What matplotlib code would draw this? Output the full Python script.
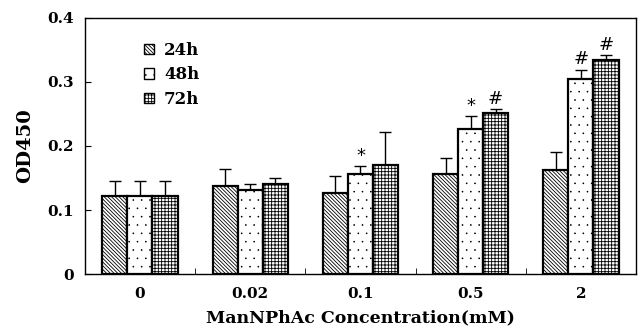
#!/usr/bin/env python3
# -*- coding: utf-8 -*-
"""
Grouped bar chart of OD450 vs ManNPhAc concentration.
"""

import matplotlib
matplotlib.use('Agg')
import matplotlib.hatch
import matplotlib.pyplot as plt
import numpy as np

concentrations = ['0', '0.02', '0.1', '0.5', '2']
series_names = ['24h', '48h', '72h']
od_24h = [0.122, 0.138, 0.127, 0.156, 0.163]
od_48h = [0.122, 0.132, 0.156, 0.226, 0.305]
od_72h = [0.122, 0.140, 0.170, 0.252, 0.335]
err_24h = [0.024, 0.026, 0.026, 0.025, 0.027]
err_48h = [0.024, 0.008, 0.013, 0.021, 0.014]
err_72h = [0.024, 0.010, 0.052, 0.005, 0.007]
marks_48h = ['', '', '*', '*', '#']
marks_72h = ['', '', '', '#', '#']

plt.rcParams['font.family'] = ['DejaVu Serif']
plt.rcParams['hatch.linewidth'] = 0.6
# smaller dots for the '.' hatch
matplotlib.hatch.SmallFilledCircles.size = 0.05

figure = plt.figure(figsize=(6.38, 3.31), dpi=100)
axes = figure.add_axes([0.133, 0.172, 0.864, 0.774])

x = np.arange(len(concentrations))
width = 0.227
values = [od_24h, od_48h, od_72h]
errors = [err_24h, err_48h, err_72h]
hatches = ['\\' * 9, '..', '+++++']
for i in range(3):
    pos = x + (i - 1) * width
    axes.bar(pos, values[i], width, color='white', edgecolor='black',
             linewidth=1.6, hatch=hatches[i], label=series_names[i],
             zorder=2)
    axes.errorbar(pos, values[i],
                  yerr=[np.zeros(len(x)), errors[i]],
                  fmt='none', ecolor='black', elinewidth=1.0, capsize=4,
                  capthick=1.0, zorder=1)

for i, (marks, vals, errs) in enumerate([(marks_48h, od_48h, err_48h),
                                          (marks_72h, od_72h, err_72h)]):
    for j, m in enumerate(marks):
        if m:
            axes.text(x[j] + i * width, vals[j] + errs[j] + 0.002, m,
                      ha='center', va='bottom', fontsize=13,
                      family='DejaVu Sans',
                      style='italic' if m == '#' else 'normal')

axes.set_xlim(-0.5, 4.5)
axes.set_ylim(0, 0.4)
axes.set_yticks([0, 0.1, 0.2, 0.3, 0.4])
axes.set_yticklabels(['0', '0.1', '0.2', '0.3', '0.4'])
axes.set_xticks(x)
axes.set_xticklabels(concentrations)
axes.set_xticks(np.arange(0.5, 4.5, 1), minor=True)
axes.tick_params(axis='x', which='major', length=0, pad=9)
axes.tick_params(axis='x', which='minor', direction='in', length=4)
axes.tick_params(axis='y', direction='in', length=4, pad=8)
for lab in axes.get_xticklabels() + axes.get_yticklabels():
    lab.set_fontweight('bold')
    lab.set_fontsize(11)
for spine in axes.spines.values():
    spine.set_linewidth(1.0)

axes.set_ylabel('OD450', fontsize=14, fontweight='bold', labelpad=9)
axes.set_xlabel('ManNPhAc Concentration(mM)', fontsize=12.5,
                fontweight='bold', labelpad=6)

legend = axes.legend(loc='upper left', bbox_to_anchor=(0.08, 0.965),
                     frameon=False, handlelength=0.6, handleheight=0.6,
                     handletextpad=0.6, labelspacing=0.45,
                     prop={'weight': 'bold', 'size': 12})
for patch in legend.get_patches():
    patch.set_linewidth(1.0)

figure.savefig('out.png')
plt.close()
